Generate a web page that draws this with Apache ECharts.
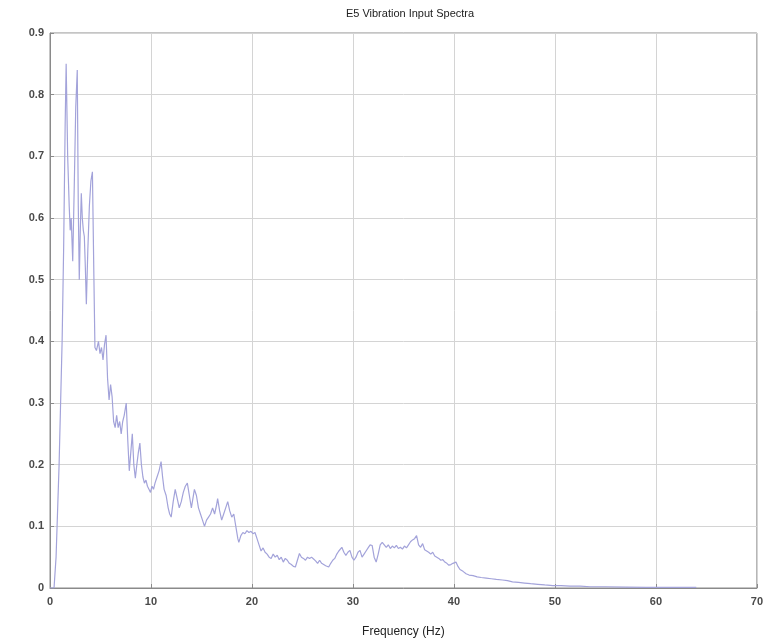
<!DOCTYPE html>
<html>
<head>
<meta charset="utf-8">
<script src="https://cdn.jsdelivr.net/npm/echarts@6/dist/echarts.min.js"></script>
<style>html,body{margin:0;padding:0;background:#fff;}#c{width:766px;height:643px;}</style>
</head>
<body>
<div id="c"></div>
<script>
var chartTitle = "E5 Vibration Input Spectra";
var xAxisName = "Frequency (Hz)";
var xTicks = [0, 10, 20, 30, 40, 50, 60, 70];
var yTicks = [0, 0.1, 0.2, 0.3, 0.4, 0.5, 0.6, 0.7, 0.8, 0.9];

var freq = [0.0,0.4,0.6,0.9,1.2,1.35,1.5,1.6,1.75,1.9,2.0,2.1,2.25,2.4,2.55,2.7,2.8,2.9,3.0,3.1,3.2,3.3,3.4,3.5,3.6,3.75,3.9,4.05,4.2,4.35,4.45,4.6,4.8,4.95,5.1,5.25,5.4,5.55,5.7,5.85,6.0,6.15,6.3,6.45,6.6,6.75,6.9,7.05,7.2,7.35,7.55,7.7,7.85,8.0,8.15,8.3,8.45,8.6,8.75,8.9,9.05,9.2,9.35,9.5,9.65,9.8,9.95,10.1,10.25,10.4,10.6,10.8,11.0,11.15,11.3,11.5,11.7,11.85,12.0,12.2,12.4,12.6,12.8,13.0,13.2,13.4,13.6,13.8,14.0,14.15,14.3,14.5,14.7,14.9,15.1,15.3,15.5,15.7,15.9,16.1,16.3,16.5,16.6,16.8,17.0,17.2,17.4,17.6,17.8,18.0,18.2,18.4,18.6,18.7,18.9,19.1,19.3,19.5,19.7,19.9,20.1,20.3,20.5,20.7,20.9,21.1,21.3,21.5,21.7,21.9,22.1,22.3,22.5,22.7,22.9,23.1,23.3,23.5,23.7,23.9,24.1,24.3,24.5,24.7,24.9,25.1,25.3,25.5,25.7,25.9,26.1,26.3,26.5,26.7,26.9,27.1,27.3,27.6,27.8,28.0,28.2,28.4,28.6,28.9,29.1,29.3,29.5,29.7,29.9,30.1,30.3,30.5,30.7,30.9,31.1,31.3,31.5,31.7,31.9,32.1,32.3,32.5,32.7,32.9,33.1,33.3,33.5,33.7,33.9,34.1,34.3,34.5,34.7,34.9,35.1,35.3,35.5,35.7,35.9,36.1,36.3,36.5,36.7,36.9,37.1,37.3,37.5,37.7,37.9,38.1,38.3,38.5,38.7,38.9,39.1,39.3,39.5,39.7,39.9,40.2,40.4,40.6,40.9,41.2,41.5,41.9,42.3,42.7,43.2,43.7,44.2,44.8,45.3,45.8,46.4,47.0,47.6,48.3,49.0,49.8,50.6,51.5,52.5,53.5,55,57,59,61,63,64];
var amp = [0,0.0,0.05,0.2,0.4,0.55,0.75,0.85,0.7,0.62,0.58,0.6,0.53,0.65,0.78,0.84,0.62,0.5,0.58,0.64,0.6,0.58,0.57,0.52,0.46,0.55,0.62,0.66,0.675,0.5,0.39,0.385,0.4,0.38,0.39,0.37,0.395,0.41,0.34,0.305,0.33,0.31,0.27,0.26,0.28,0.26,0.27,0.25,0.27,0.28,0.3,0.24,0.19,0.22,0.25,0.2,0.178,0.2,0.22,0.235,0.2,0.18,0.17,0.175,0.165,0.16,0.155,0.165,0.16,0.17,0.18,0.19,0.205,0.18,0.16,0.15,0.13,0.12,0.115,0.14,0.16,0.145,0.13,0.14,0.155,0.165,0.17,0.15,0.13,0.145,0.16,0.15,0.13,0.12,0.11,0.1,0.11,0.115,0.12,0.13,0.12,0.135,0.145,0.125,0.11,0.12,0.13,0.14,0.125,0.115,0.12,0.1,0.08,0.074,0.085,0.09,0.088,0.093,0.09,0.092,0.088,0.09,0.08,0.07,0.06,0.065,0.058,0.055,0.05,0.048,0.055,0.05,0.053,0.046,0.05,0.042,0.048,0.045,0.04,0.038,0.035,0.034,0.045,0.056,0.05,0.048,0.045,0.05,0.048,0.05,0.047,0.044,0.04,0.045,0.04,0.038,0.036,0.034,0.04,0.045,0.048,0.055,0.06,0.066,0.058,0.053,0.058,0.061,0.05,0.045,0.05,0.058,0.061,0.05,0.055,0.06,0.065,0.07,0.069,0.05,0.042,0.055,0.07,0.074,0.07,0.066,0.07,0.064,0.068,0.065,0.069,0.064,0.066,0.063,0.068,0.065,0.07,0.075,0.078,0.08,0.085,0.07,0.066,0.072,0.062,0.06,0.058,0.055,0.058,0.052,0.05,0.048,0.045,0.046,0.042,0.04,0.037,0.038,0.04,0.042,0.035,0.03,0.027,0.023,0.021,0.02,0.018,0.017,0.016,0.015,0.014,0.013,0.012,0.01,0.009,0.008,0.007,0.006,0.005,0.004,0.004,0.003,0.003,0.002,0.002,0.0015,0.001,0.001,0.001,0.001];

var pairs = freq.map(function (f, i) { return [f, amp[i]]; });

var chart = echarts.init(document.getElementById('c'), null, {renderer: 'canvas'});
chart.setOption({
  backgroundColor: '#ffffff',
  animation: false,
  title: {
    text: chartTitle,
    left: 405, top: 3, textAlign: 'center',
    textStyle: {fontFamily: 'Liberation Sans, Arial, sans-serif', fontSize: 11, fontWeight: 'normal', color: '#222'}
  },
  grid: {left: 50, right: 6, top: 33, bottom: 50, show: true, borderColor: '#8a8a8a', borderWidth: 1, backgroundColor: '#fff'},
  xAxis: {
    type: 'value', min: xTicks[0], max: xTicks[xTicks.length - 1], interval: 10,
    name: xAxisName, nameLocation: 'middle', nameGap: 38,
    nameTextStyle: {fontFamily: 'Liberation Sans, Arial, sans-serif', fontSize: 12, color: '#222'},
    axisLine: {show: true, lineStyle: {color: '#8a8a8a'}},
    axisTick: {show: true, inside: true, length: 4, lineStyle: {color: '#8a8a8a'}},
    axisLabel: {fontFamily: 'Liberation Sans, Arial, sans-serif', fontSize: 11, fontWeight: 'bold', color: '#4a4a4a', margin: 8},
    splitLine: {show: true, lineStyle: {color: '#d4d4d4', width: 1}}
  },
  yAxis: {
    type: 'value', min: yTicks[0], max: yTicks[yTicks.length - 1], interval: 0.1,
    axisLine: {show: true, lineStyle: {color: '#8a8a8a'}},
    axisTick: {show: true, inside: true, length: 4, lineStyle: {color: '#8a8a8a'}},
    axisLabel: {fontFamily: 'Liberation Sans, Arial, sans-serif', fontSize: 11, fontWeight: 'bold', color: '#4a4a4a', margin: 6,
      formatter: function (v) { return v === 0 ? '0' : v.toFixed(1); }},
    splitLine: {show: true, lineStyle: {color: '#d4d4d4', width: 1}}
  },
  series: [{
    type: 'line', data: pairs, showSymbol: false, symbol: 'none',
    lineStyle: {color: '#a3a3da', width: 1.2}
  }]
});
</script>
</body>
</html>
